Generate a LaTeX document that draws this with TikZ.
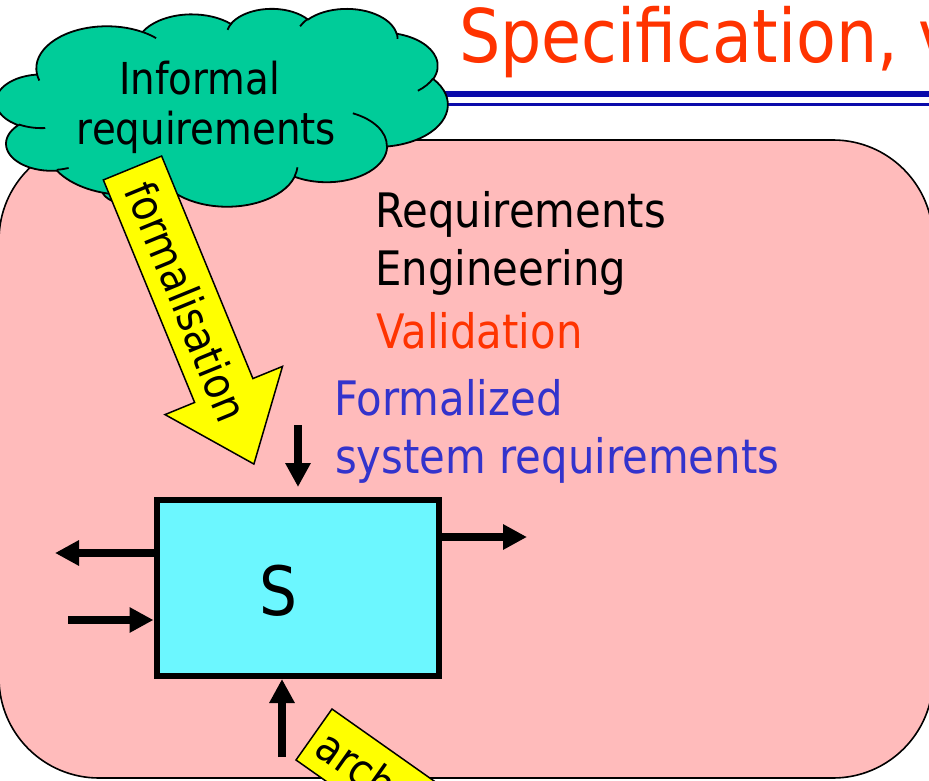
\documentclass[tikz,border=0pt]{standalone}
\usepackage{fontspec}
\setmainfont{DejaVu Sans}[FakeStretch=0.88]
\usetikzlibrary{arrows.meta}

\definecolor{titlered}{HTML}{FF3300}
\definecolor{rulenavy}{HTML}{0A0AAA}
\definecolor{panelpink}{HTML}{FFBBBB}
\definecolor{cloudgreen}{HTML}{00CC99}
\definecolor{boxcyan}{HTML}{6CF7FF}
\definecolor{textblue}{HTML}{3333CC}
\definecolor{flowyellow}{HTML}{FFFF00}

% Elliptic arc given by its visual start angle and sweep (as in a
% preset cloud outline): store the parametric start and delta angles
% in \cld<name>s and \cld<name>d.
\newcommand\cloudang[5]{%
  \pgfmathsetmacro\cldtmpa{atan2((#2)*sin(#4),(#3)*cos(#4))}%
  \pgfmathsetmacro\cldtmpb{atan2((#2)*sin(#4+(#5)),(#3)*cos(#4+(#5)))}%
  \pgfmathsetmacro\cldtmpd{\cldtmpb-\cldtmpa}%
  \pgfmathsetmacro\cldtmpd{\cldtmpd+360*((#5)>0)*(\cldtmpd<0)-360*((#5)<0)*(\cldtmpd>0)}%
  \expandafter\xdef\csname cld#1s\endcsname{\cldtmpa}%
  \expandafter\xdef\csname cld#1d\endcsname{\cldtmpd}%
}

\tikzset{
  panel/.style={draw=black, line width=1.6pt, fill=panelpink, rounded corners=100pt},
  cloudline/.style={draw=black, line width=1.8pt},
  sysbox/.style={draw=black, line width=6pt, fill=boxcyan, minimum width=282.5pt,
    minimum height=176pt, inner sep=0pt},
  sig/.style={line width=8pt, -{Triangle[length=24pt,width=24pt]}},
  flow/.style={draw=black, line width=1.5pt, fill=flowyellow, line join=miter},
  bigtext/.style={anchor=base west, inner sep=0pt, font=\fontsize{47.5}{56}\selectfont},
  cloudtext/.style={anchor=base, inner sep=0pt, font=\fontsize{44}{52}\selectfont},
  flowtext/.style={anchor=west, inner sep=0pt, font=\fontsize{44}{52}\selectfont},
}

\begin{document}
\begin{tikzpicture}[x=1pt, y=-1pt]
  % outline arcs of the cloud
  \cloudang{A}{67.53}{91.90}{-190.4875}{123.7805}
  \cloudang{B}{53.33}{72.67}{-144.1024}{89.9452}
  \cloudang{C}{43.65}{59.45}{-145.8079}{99.7230}
  \cloudang{D}{48.57}{65.95}{-130.9861}{117.2417}
  \cloudang{E}{53.33}{72.73}{-78.7089}{109.0269}
  \cloudang{F}{67.75}{92.20}{-46.2673}{130.2690}
  \cloudang{G}{57.85}{78.67}{0.6250}{114.0333}
  \cloudang{H}{67.52}{92.15}{22.4516}{115.1726}
  \cloudang{I}{77.20}{105.43}{66.2426}{75.7110}
  \cloudang{J}{43.60}{59.18}{-274.9421}{146.7356}
  \cloudang{K}{43.45}{59.45}{-246.8285}{152.5189}
  % inner creases of the cloud
  \cloudang{a}{43.45}{59.45}{86.7420}{26.4295}
  \cloudang{b}{43.60}{59.18}{73.6105}{11.4475}
  \cloudang{c}{67.52}{92.15}{137.6242}{14.0811}
  \cloudang{d}{67.52}{92.15}{6.4533}{15.9984}
  \cloudang{e}{57.85}{78.67}{-70.2924}{70.9174}
  \cloudang{f}{53.33}{72.73}{30.3180}{27.7515}
  \cloudang{g}{48.57}{65.95}{-13.7443}{14.8589}
  \cloudang{h}{48.57}{65.95}{-149.1815}{18.1954}
  \cloudang{i}{43.65}{59.45}{-163.4943}{17.6864}
  \cloudang{j}{67.53}{91.90}{-66.7070}{12.3194}
  \cloudang{k}{67.53}{91.90}{157.6544}{11.8582}

  \useasboundingbox (0,0) rectangle (929,781);
  \fill[white] (0,0) rectangle (929,781);
  \clip (0,0) rectangle (929,781);

  % heading and its double rule
  \draw[rulenavy, line width=6pt] (300,93.7) -- (935,93.7);
  \draw[rulenavy, line width=2.5pt] (300,104.5) -- (935,104.5);
  \node[anchor=base west, inner sep=0pt, text=titlered,
        font=\fontsize{74}{88}\selectfont] (title) at (459,63) {Specification, v};

  % background panel
  \draw[panel] (-1,140) rectangle (933,778);

  % phase names
  \node[bigtext] (re1) at (375,227) {Requirements};
  \node[bigtext] (re2) at (375,285) {Engineering};
  \node[bigtext, text=titlered] (val) at (376,348) {Validation};
  \node[bigtext, text=textblue] (fs1) at (334,415) {Formalized};
  \node[bigtext, text=textblue] (fs2) at (335,473) {system requirements};

  % the system box with its inputs and outputs
  \node[sysbox] (sys) at (297.75,588) {};
  \node[anchor=base, inner sep=0pt, font=\fontsize{68}{80}\selectfont] (slabel) at (278.5,615) {S};
  \coordinate (lo) at (55,553);
  \coordinate (li) at (68,620);
  \coordinate (ro) at (527,537);
  \coordinate (ti) at (298,425);
  \coordinate (bi) at (282,757);
  \draw[sig] (sys.west |- lo) -- (lo);
  \draw[sig] (li) -- (sys.west |- li);
  \draw[sig] (sys.east |- ro) -- (ro);
  \draw[sig, shorten >=10pt] (ti) -- (sys.north -| ti);
  \draw[sig] (bi) -- (sys.south -| bi);

  % cloud of informal requirements
  \draw[cloudline, fill=cloudgreen] (140,190) ellipse[x radius=38, y radius=16];
  \begin{scope}[shift={(-3.8,8.2)}, xscale=1.0451, yscale=0.4579]
    \draw[cloudline, fill=cloudgreen] (39.00,143.70)
      arc[x radius=67.53, y radius=91.90, start angle=\cldAs, delta angle=\cldAd]
      arc[x radius=53.33, y radius=72.67, start angle=\cldBs, delta angle=\cldBd]
      arc[x radius=43.65, y radius=59.45, start angle=\cldCs, delta angle=\cldCd]
      arc[x radius=48.57, y radius=65.95, start angle=\cldDs, delta angle=\cldDd]
      arc[x radius=53.33, y radius=72.73, start angle=\cldEs, delta angle=\cldEd]
      arc[x radius=67.75, y radius=92.20, start angle=\cldFs, delta angle=\cldFd]
      arc[x radius=57.85, y radius=78.67, start angle=\cldGs, delta angle=\cldGd]
      arc[x radius=67.52, y radius=92.15, start angle=\cldHs, delta angle=\cldHd]
      arc[x radius=77.20, y radius=105.43, start angle=\cldIs, delta angle=\cldId]
      arc[x radius=43.60, y radius=59.18, start angle=\cldJs, delta angle=\cldJd]
      arc[x radius=43.45, y radius=59.45, start angle=\cldKs, delta angle=\cldKd]
      -- cycle;
    \draw[cloudline]
      (46.93,261.77) arc[x radius=43.45, y radius=59.45, start angle=\cldas, delta angle=\cldad]
      (69.28,348.99) arc[x radius=43.60, y radius=59.18, start angle=\cldbs, delta angle=\cldbd]
      (164.78,390.90) arc[x radius=67.52, y radius=92.15, start angle=\cldcs, delta angle=\cldcd]
      (288.27,347.51) arc[x radius=67.52, y radius=92.15, start angle=\cldds, delta angle=\clddd]
      (341.29,229.54) arc[x radius=57.85, y radius=78.67, start angle=\cldes, delta angle=\clded]
      (417.98,153.54) arc[x radius=53.33, y radius=72.73, start angle=\cldfs, delta angle=\cldfd]
      (383.24,54.26) arc[x radius=48.57, y radius=65.95, start angle=\cldgs, delta angle=\cldgd]
      (290.78,39.52) arc[x radius=48.57, y radius=65.95, start angle=\cldhs, delta angle=\cldhd]
      (221.41,47.20) arc[x radius=43.65, y radius=59.45, start angle=\cldis, delta angle=\cldid]
      (140.00,51.92) arc[x radius=67.53, y radius=91.90, start angle=\cldjs, delta angle=\cldjd]
      (41.27,157.89) arc[x radius=67.53, y radius=91.90, start angle=\cldks, delta angle=\cldkd];
  \end{scope}
  \node[cloudtext] (inf1) at (199.5,95) {Informal};
  \node[cloudtext] (inf2) at (206.5,145) {requirements};

  % formalisation arrow from the cloud towards the system
  \begin{scope}[shift={(132.5,168)}, rotate=-67.7]
    \draw[flow] (0,-31.5) -- (240.5,-31.5) -- (240.5,-63.5) -- (320,0)
      -- (240.5,63.5) -- (240.5,31.5) -- (0,31.5) -- cycle;
    \node[flowtext, rotate=-67.7] (fml) at (17,0) {formalisation};
  \end{scope}

  % architecture arrow leaving the system
  \begin{scope}[shift={(314,734.5)}, rotate=-35.2]
    \draw[flow] (0,-31.2) -- (400,-31.2) -- (400,31.2) -- (0,31.2) -- cycle;
    \node[flowtext, rotate=-35.2] (arc) at (10,0) {arch};
  \end{scope}
\end{tikzpicture}
\end{document}
